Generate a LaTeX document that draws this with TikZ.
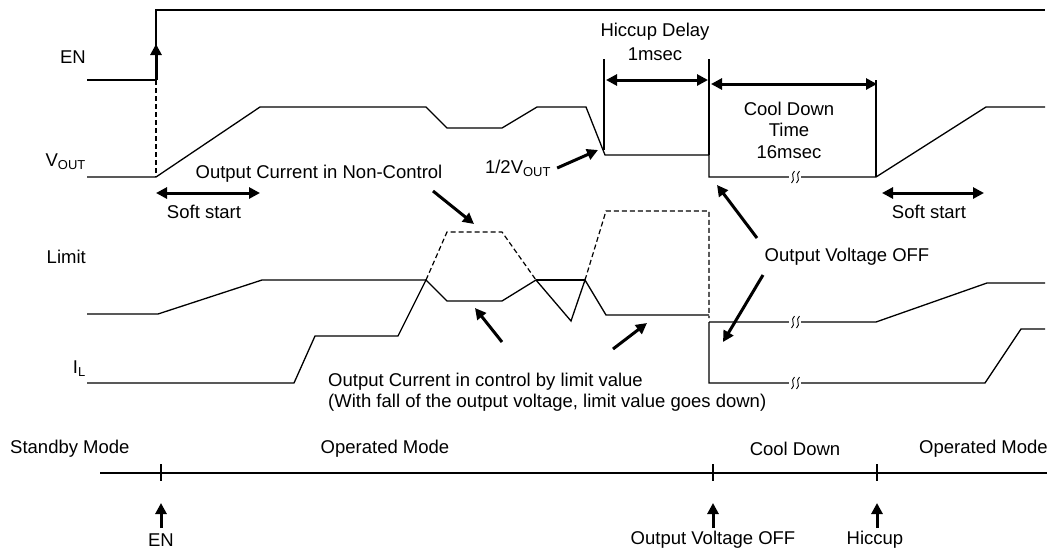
\documentclass[tikz,border=0pt]{standalone}
\usepackage{fontspec}
\setmainfont{Liberation Sans}
\usetikzlibrary{arrows.meta}

\newcommand{\wavebreak}[2]{%
  \fill[white] (#1-6,#2-7) rectangle (#1+6,#2+7);
  \draw[line width=0.9pt] (#1-3.5,#2+6) .. controls (#1+1.5,#2+2) and (#1-5.5,#2-2) .. (#1-0.5,#2-6);
  \draw[line width=0.9pt] (#1+1.5,#2+6) .. controls (#1+6.5,#2+2) and (#1-0.5,#2-2) .. (#1+4.5,#2-6);}

\begin{document}
\begin{tikzpicture}[x=1pt,y=-1pt,
  wave/.style={line width=1.3pt},
  edge/.style={line width=1.9pt},
  nc/.style={line width=1.2pt,dash pattern=on 5pt off 3pt},
  ptr/.style={line width=3pt,-{Triangle[length=11pt,width=11pt]}},
  dim/.style={line width=3pt,{Triangle[length=11pt,width=11pt]}-{Triangle[length=11pt,width=11pt]}},
  lbl/.style={font=\fontsize{18.5}{21}\selectfont,inner sep=0pt}]
\useasboundingbox (0,0) rectangle (1047,550);

% signal names
\node[lbl,anchor=east] (en) at (86,57) {EN};
\node[lbl,anchor=east] (vout) at (86,162) {V\textsubscript{OUT}};
\node[lbl,anchor=east] (limit) at (86,257) {Limit};
\node[lbl,anchor=east] (il) at (86,369) {I\textsubscript{L}};

% EN
\draw[wave] (87,80) -- (156,80) -- (156,10) -- (1045,10);
\draw[nc] (156,80) -- (156,177);
\draw[ptr] (156,80) -- (156,44);

% VOUT
\draw[wave] (87,177) -- (156,177) -- (260,107) -- (426,107) -- (447,128) -- (502,128)
  -- (537,107) -- (586,107) -- (605,155) -- (709,155) -- (709,177) -- (876,177)
  -- (986,107) -- (1045,107);
\draw[edge] (604,59) -- (604,150);
\draw[edge] (709,59) -- (709,155);
\draw[wave] (876,80) -- (876,177);
\draw[dim] (606,80) -- (708,80);
\draw[dim] (711,84) -- (877,84);
\node[lbl] (hd) at (655,32) {Hiccup Delay};
\node[lbl] (hdt) at (655,54) {1msec};
\node[lbl,align=center,font=\fontsize{18.5}{21.5}\selectfont] (cd) at (789,130) {Cool Down\\Time\\16msec};
\node[lbl] (half) at (518,168) {1/2V\textsubscript{OUT}};
\coordinate (halfpt) at (598,150);
\draw[ptr] ([xshift=6pt]half.east) -- (halfpt);

% soft start
\draw[dim] (156,193) -- (260,193);
\node[lbl] (ss1) at (204,212) {Soft start};
\draw[dim] (882,193) -- (984,193);
\node[lbl] (ss2) at (929,212) {Soft start};

% Limit and IL
\draw[wave] (87,314) -- (158,314) -- (262,280) -- (426,280);
\draw[wave] (536,280) -- (585,280);
\draw[wave] (87,383) -- (294,383) -- (315,336) -- (398,336) -- (426,280) -- (447,301)
  -- (502,301) -- (536,280) -- (571,321) -- (585,280) -- (606,315) -- (709,315);
\draw[nc] (426,280) -- (447,232) -- (502,232) -- (536,280);
\draw[nc] (585,280) -- (606,211) -- (709,211) -- (709,318);
\draw[wave] (709,322) -- (876,322) -- (987,283) -- (1045,283);
\draw[wave] (709,322) -- (709,383) -- (985,383) -- (1021,329) -- (1045,329);

% breaks
\wavebreak{795}{177}
\wavebreak{795}{322}
\wavebreak{795}{383}

% notes
\node[lbl] (nctl) at (319,174) {Output Current in Non-Control};
\draw[ptr] (433,191) -- (474,224);
\node[lbl,anchor=west,align=left] (ctl) at (328,392) {Output Current in control by limit value\\(With fall of the output voltage, limit value goes down)};
\draw[ptr] (502,342) -- (475,308);
\draw[ptr] (613,349) -- (647,323);
\node[lbl] (off) at (847,257) {Output Voltage OFF};
\draw[ptr] (757,238) -- (717,185);
\draw[ptr] (763,275) -- (723,342);

% modes
\draw[wave] (100,473) -- (1047,473);
\foreach \t in {161,713,877} \draw[wave] (\t,464) -- (\t,481);
\node[lbl,anchor=west] (sb) at (10,449) {Standby Mode};
\node[lbl] (op1) at (385,449) {Operated Mode};
\node[lbl] (cdm) at (795,449) {Cool Down};
\node[lbl,anchor=west] (op2) at (919,449) {Operated Mode};

% events
\node[lbl] (ben) at (161,540) {EN};
\node[lbl] (boff) at (713,540) {Output Voltage OFF};
\node[lbl] (bhic) at (875,540) {Hiccup};
\foreach \n/\t in {ben/161,boff/713,bhic/877}
  \draw[ptr] (\t,528) -- (\t,503);
\end{tikzpicture}
\end{document}
